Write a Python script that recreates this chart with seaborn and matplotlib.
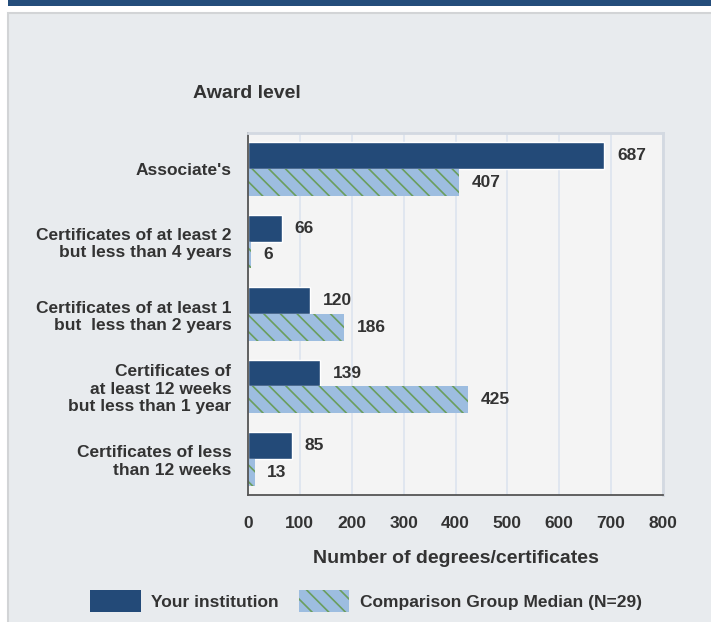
import pandas as pd
import matplotlib.pyplot as plt
import seaborn as sns
from matplotlib.patches import Rectangle, Patch

categories = ["Associate's",
              "Certificates of at least 2\nbut less than 4 years",
              "Certificates of at least 1\nbut  less than 2 years",
              "Certificates of\nat least 12 weeks\nbut less than 1 year",
              "Certificates of less\nthan 12 weeks"]
institution = [687, 66, 120, 139, 85]
comparison = [407, 6, 186, 425, 13]
series_names = ["Your institution", "Comparison Group Median (N=29)"]
x_ticks = [0, 100, 200, 300, 400, 500, 600, 700, 800]

dark = '#234a78'
light = '#9dbde0'
green = '#6a9e5e'
txt = '#333333'

sns.set_style('white')
plt.rcParams['font.family'] = ['Liberation Sans', 'DejaVu Sans']
plt.rcParams['font.weight'] = 'bold'
plt.rcParams['hatch.linewidth'] = 1.2

df = pd.DataFrame({
    'Award': categories * 2,
    'Count': institution + comparison,
    'Series': [series_names[0]] * len(categories) + [series_names[1]] * len(categories),
})

W, H = 711, 622
fig = plt.figure(figsize=(W / 100, H / 100), dpi=100)
fig.patch.set_facecolor('white')
# page decoration: dark band on top and gray panel (behind the axes)
fig.patches.append(Rectangle((8 / W, 1 - 6 / H), 1, 6 / H, transform=fig.transFigure,
                             facecolor='#244d7b', edgecolor='none', zorder=-2))
fig.patches.append(Rectangle((8 / W, -0.01), 1, 1 - 13 / H + 0.01, transform=fig.transFigure,
                             facecolor='#e8ebee', edgecolor='#d2d4d6', linewidth=1.5, zorder=-2))

ax = fig.add_axes([248 / W, 1 - 495 / H, (663 - 248) / W, (495 - 133) / H])
sns.barplot(data=df, y='Award', x='Count', hue='Series', orient='h',
            palette=[dark, light], saturation=1, width=0.74, ax=ax, legend=False)

for bar in ax.containers[1]:
    bar.set_hatch('\\\\')
    bar.set_edgecolor(green)
    bar.set_linewidth(0)

for cont in ax.containers:
    ax.bar_label(cont, padding=9, fontsize=12.5, fontweight='bold', color=txt)

ax.set_facecolor('#f4f4f4')
ax.set_xlim(0, 800)
ax.set_xticks(x_ticks)
ax.set_xticklabels([str(v) for v in x_ticks])
ax.grid(axis='x', color='#dde4ee', linewidth=1.2)
ax.set_axisbelow(True)
ax.set_ylim(len(categories) - 0.5, -0.5)

for s in ['top', 'right']:
    ax.spines[s].set_color('#d3d9e1')
    ax.spines[s].set_linewidth(2)
for s in ['left', 'bottom']:
    ax.spines[s].set_color('#555555')
    ax.spines[s].set_linewidth(1.3)

ax.set_yticks([i - 0.5 for i in range(len(categories) + 1)], minor=True)
ax.tick_params(axis='y', which='minor', length=7.5, width=1.3, color='#555555')
ax.tick_params(axis='y', which='major', length=0, pad=12, labelsize=12.5, labelcolor=txt)
ax.tick_params(axis='x', which='major', length=0, pad=15, labelsize=12.5, labelcolor=txt)
ax.set_ylabel('')
ax.set_xlabel('Number of degrees/certificates', fontsize=14, fontweight='bold',
              color=txt, labelpad=14)

fig.text(247 / W, 1 - 93 / H, 'Award level', ha='center', va='center',
         fontsize=14, fontweight='bold', color=txt)

handles = [Patch(facecolor=dark, edgecolor='none'),
           Patch(facecolor=light, hatch='\\\\', edgecolor=green, linewidth=0)]
fig.legend(handles, series_names, loc='center', bbox_to_anchor=(366 / W, 1 - 601 / H),
           ncol=2, frameon=False, fontsize=12.5, labelcolor=txt,
           handlelength=2.9, handleheight=1.6, handletextpad=0.6, columnspacing=1.15)

fig.savefig('out.png', dpi=100)
